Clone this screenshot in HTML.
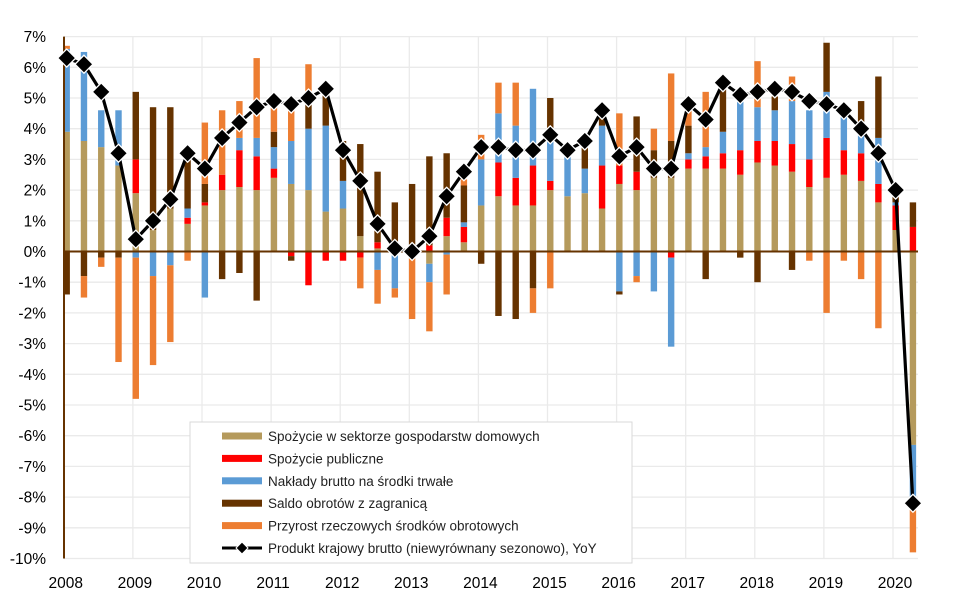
<!DOCTYPE html>
<html><head><meta charset="utf-8"><style>
body{margin:0;background:#fff;width:965px;height:600px;overflow:hidden;font-family:"Liberation Sans",sans-serif}
</style></head><body>
<svg id="c" width="965" height="600" xmlns="http://www.w3.org/2000/svg" font-family="Liberation Sans, sans-serif"></svg>
<script>
const S=document.getElementById('c');let h='';
const Z=251.5,U=30.7,y=v=>Z-v*U,x0=66.7,dx=17.27;
for(let v=-10;v<=7;v++){h+=`<line x1="64" x2="918" y1="${y(v)}" y2="${y(v)}" stroke="#eaeaea" stroke-width="1.3"/>`;
h+=`<text x="46" y="${y(v)+5.5}" font-size="15.5" text-anchor="end" fill="#000">${v}%</text>`;}
for(let k=0;k<=12;k++){const gx=63.8+69.1*k;if(k>0)h+=`<line x1="${gx}" x2="${gx}" y1="${y(7)}" y2="${y(-10)}" stroke="#eaeaea" stroke-width="1.3"/>`;
h+=`<text x="${gx+2}" y="588" font-size="15.5" text-anchor="middle" fill="#000">${2008+k}</text>`;}
const D=[[3.9,0,2.7,-1.4,0.1],[3.6,0,2.9,-0.8,-0.7],[3.4,0,1.2,-0.2,-0.3],[2.8,0,1.8,-0.2,-3.4],
[1.9,1.1,-0.2,2.2,-4.6],[0.7,0,-0.8,4.0,-2.9],[1.4,0,-0.45,3.3,-2.5],[0.9,0.2,0.3,1.6,-0.3],
[1.5,0.1,-1.5,0.6,2.0],[2.0,0.5,0,-0.9,2.1],[2.1,1.2,0.4,-0.7,1.2],[2.0,1.1,0.6,-1.6,2.6],
[2.4,0.3,0.7,0.5,0.8],[2.2,-0.15,1.4,-0.15,1.2],[2.0,-1.1,2.0,0.8,1.3],[1.3,-0.3,2.8,1.2,0],
[1.4,-0.3,0.9,1.3,0],[0.5,-0.2,0,3.0,-1.0],[0.1,0.2,-0.6,2.3,-1.1],[0,0,-1.2,1.6,-0.3],
[0,0,0,2.2,-2.2],[-0.4,0.2,-0.6,2.9,-1.6],[0.5,0.6,-0.1,2.1,-1.3],[0.3,0.5,0.15,1.2,0.2],
[1.5,0,1.5,-0.4,0.8],[1.8,1.1,1.6,-2.1,1.0],[1.5,0.9,1.7,-2.2,1.4],[1.5,1.3,2.5,-1.2,-0.8],
[2.0,0.3,1.4,1.3,-1.2],[1.8,0,1.5,0.1,0],[1.9,0,0.8,1.0,0],[1.4,1.4,1.3,0.4,0],
[2.2,0.6,-1.3,-0.1,1.7],[2.0,0.6,-0.8,1.8,-0.2],[2.4,0,-1.3,0.9,0.7],[2.4,-0.2,-2.9,1.2,2.2],
[2.7,0.3,0.2,0.9,0.5],[2.7,0.4,0.3,-0.9,1.8],[2.7,0.5,0.7,1.4,0],[2.5,0.8,1.6,-0.2,0],
[2.9,0.7,1.1,-1.0,1.5],[2.8,0.8,1.0,0.45,0],[2.6,0.9,1.4,-0.6,0.8],[2.1,0.9,1.6,0,-0.3],
[2.4,1.3,1.5,1.6,-2.0],[2.5,0.8,1.1,0,-0.3],[2.3,0.9,0.6,1.1,-0.9],[1.6,0.6,1.5,2.0,-2.5],
[0.7,0.8,0.1,0.3,0],[-6.3,0.8,-1.8,0.8,-1.7]];
const C=['#b59a5c','#ff0000','#5b9bd5','#663300','#ed7d31'];
D.forEach((d,i)=>{const cx=x0+dx*i;let p=0,n=0;d.forEach((v,j)=>{if(!v)return;let a,b;
if(v>0){a=p;b=p+v;p=b}else{a=n;b=n+v;n=b}
h+=`<rect x="${cx-3.2}" y="${Math.min(y(a),y(b))}" width="6.4" height="${Math.abs(y(a)-y(b))}" fill="${C[j]}"/>`;});});
h+=`<line x1="64" x2="918" y1="${Z}" y2="${Z}" stroke="#663300" stroke-width="2"/>`;
h+=`<line x1="64" x2="64" y1="${y(7)}" y2="${y(-10)}" stroke="#663300" stroke-width="2"/>`;
const L=[6.3,6.1,5.2,3.2,0.4,1.0,1.7,3.2,2.7,3.7,4.2,4.7,4.9,4.8,5.0,5.3,3.3,2.3,0.9,0.1,0.0,0.5,1.8,2.6,3.4,3.4,3.3,3.3,3.8,3.3,3.6,4.6,3.1,3.4,2.7,2.7,4.8,4.3,5.5,5.1,5.2,5.3,5.2,4.9,4.8,4.6,4.0,3.2,2.0,-8.2];
h+=`<polyline fill="none" stroke="#000" stroke-width="3.2" points="${L.map((v,i)=>(x0+dx*i)+','+y(v)).join(' ')}"/>`;
L.forEach((v,i)=>{const cx=x0+dx*i,cy=y(v),r=9;h+=`<polygon points="${cx},${cy-r} ${cx+r},${cy} ${cx},${cy+r} ${cx-r},${cy}" fill="#000" stroke="#fff" stroke-width="1.3"/>`;});
h+=`<rect x="190" y="422" width="442" height="141" fill="#fff" stroke="#d9d9d9"/>`;
const N=['Spożycie w sektorze gospodarstw domowych','Spożycie publiczne','Nakłady brutto na środki trwałe','Saldo obrotów z zagranicą','Przyrost rzeczowych środków obrotowych'];
N.forEach((t,j)=>{const ly=436+j*22.4;h+=`<rect x="222" y="${ly-3.5}" width="40" height="7" fill="${C[j]}"/><text x="268" y="${ly+5}" font-size="13.5" fill="#222">${t}</text>`;});
const ly=548;h+=`<line x1="222" x2="262" y1="${ly}" y2="${ly}" stroke="#000" stroke-width="3"/><polygon points="242,${ly-6} 248,${ly} 242,${ly+6} 236,${ly}" fill="#000" stroke="#fff"/><text x="268" y="${ly+5}" font-size="13.5" fill="#222">Produkt krajowy brutto (niewyrównany sezonowo), YoY</text>`;
S.innerHTML=h;
</script>
</body></html>
